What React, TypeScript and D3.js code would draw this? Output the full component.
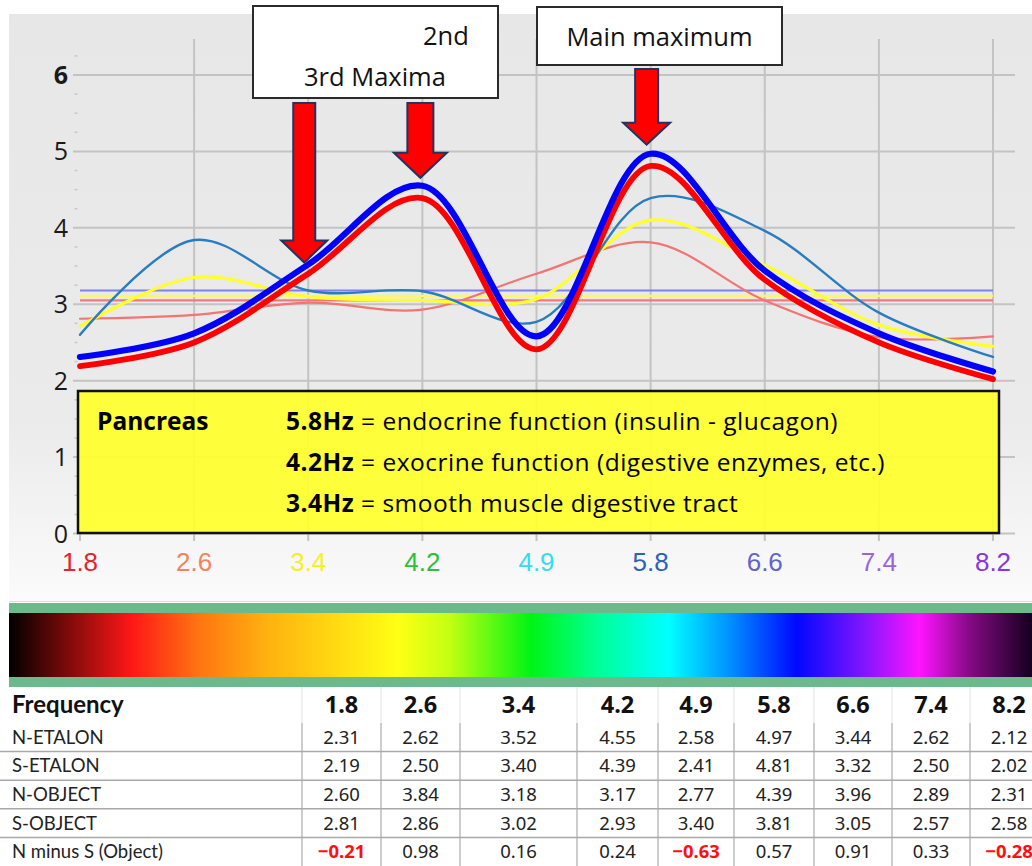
import React from "react";
import * as d3 from "d3";

// frequency categories (Hz) and the measured series
const freqs = ["1.8", "2.6", "3.4", "4.2", "4.9", "5.8", "6.6", "7.4", "8.2"];
const nEtalon = [2.31, 2.62, 3.52, 4.55, 2.58, 4.97, 3.44, 2.62, 2.12];
const sEtalon = [2.19, 2.5, 3.4, 4.39, 2.41, 4.81, 3.32, 2.5, 2.02];
const nObject = [2.6, 3.84, 3.18, 3.17, 2.77, 4.39, 3.96, 2.89, 2.31];
const sObject = [2.81, 2.86, 3.02, 2.93, 3.4, 3.81, 3.05, 2.57, 2.58];
const objectMid = [2.71, 3.35, 3.1, 3.05, 3.07, 4.1, 3.51, 2.73, 2.45];
const nMinusS = [-0.21, 0.98, 0.16, 0.24, -0.63, 0.57, 0.91, 0.33, -0.28];

// flat reference levels drawn across the plot
const levelBlue = 3.18;
const levelYellow = 3.11;
const levelRed = 3.05;

const yTicks = [0, 1, 2, 3, 4, 5, 6];
const tickColors = ["#e8232b", "#f2835f", "#f4f02a", "#2fbf3a", "#35dcef", "#2a62bd", "#6462cf", "#9566df", "#8a35e0"];

const W = 1032;
const H = 866;

const x = d3.scalePoint<string>().domain(freqs).range([80, 993]);
const y = d3.scaleLinear().domain([0, 6]).range([533.5, 75]);

const line = d3
  .line<number>()
  .x((d, i) => x(freqs[i])!)
  .y((d) => y(d))
  .curve(d3.curveCatmullRom.alpha(0.5));

const series = [
  { name: "S-OBJECT", values: sObject, color: "#f27474", width: 2.2 },
  { name: "mid", values: objectMid, color: "#ffff2e", width: 3.2 },
  { name: "N-OBJECT", values: nObject, color: "#2a7cc0", width: 2.4 },
  { name: "S-ETALON", values: sEtalon, color: "#ff0000", width: 5.8 },
  { name: "N-ETALON", values: nEtalon, color: "#0000ff", width: 6.2 },
];

const levels = [
  { v: levelBlue, color: "#7f7ff2" },
  { v: levelYellow, color: "#f8f86a" },
  { v: levelRed, color: "#f07a7a" },
];

// table rows
const tableRows = [
  { label: "N-ETALON", values: nEtalon },
  { label: "S-ETALON", values: sEtalon },
  { label: "N-OBJECT", values: nObject },
  { label: "S-OBJECT", values: sObject },
  { label: "N minus S (Object)", values: nMinusS },
];
const colWidths = [79, 79, 117, 81, 76, 80, 78, 78, 78];
const colStart = 302;
const colEdges = [colStart, ...Array.from(d3.cumsum(colWidths), (c) => colStart + c)];
const headerTop = 687;
const headerH = 36;
const rowH = 28.6;

const fmt = d3.format(".2f");

function Arrow({ tipX, tipY, top, shaftW, headW, headH }: any) {
  const pts = [
    [tipX - shaftW / 2, top],
    [tipX + shaftW / 2, top],
    [tipX + shaftW / 2, tipY - headH],
    [tipX + headW / 2, tipY - headH],
    [tipX, tipY],
    [tipX - headW / 2, tipY - headH],
    [tipX - shaftW / 2, tipY - headH],
  ];
  return <polygon points={pts.map((p) => p.join(",")).join(" ")} fill="#ff0000" stroke="#1f3560" strokeWidth={2} />;
}

export default function App() {
  const minor = d3.range(0, 6.26, 0.25).filter((v) => v % 1 !== 0);
  const stops = [
    [0, "#000000"], [0.056, "#7a0a0a"], [0.12, "#ff1717"], [0.185, "#ff7412"], [0.25, "#ffb010"],
    [0.33, "#ffe012"], [0.38, "#ffff14"], [0.43, "#c4ff12"], [0.51, "#00f514"], [0.575, "#00ff95"],
    [0.645, "#00ffff"], [0.705, "#0090ff"], [0.77, "#0008ff"], [0.835, "#8015ff"], [0.89, "#ff14ff"],
    [0.94, "#820a82"], [1, "#14001e"],
  ];
  return (
    <div style={{ position: "absolute", left: 0, top: 0 }}>
      <svg width={W} height={H} style={{ display: "block", background: "#ffffff" }}>
        <defs>
          <linearGradient id="bg" x1="0" y1="0" x2="0" y2="1">
            <stop offset="0" stopColor="#e7e7e7" />
            <stop offset="0.7" stopColor="#ebebeb" />
            <stop offset="1" stopColor="#fbfbfb" />
          </linearGradient>
          <linearGradient id="spectrum" x1="0" y1="0" x2="1" y2="0">
            {stops.map(([o, c], i) => (
              <stop key={i} offset={o as number} stopColor={c as string} />
            ))}
          </linearGradient>
        </defs>

        {/* plot background */}
        <rect x={9} y={14} width={W - 9} height={588} fill="url(#bg)" />

        {/* grid */}
        <g stroke="#c3c3c3" strokeWidth={2}>
          {yTicks.map((t) => (
            <line key={t} x1={73} x2={1015} y1={y(t)} y2={y(t)} />
          ))}
          {freqs.map((f, i) => (
            <line key={f} x1={x(f)} x2={x(f)} y1={i === 0 ? y(0) : 39} y2={541} />
          ))}
        </g>
        <g stroke="#c8c8c8" strokeWidth={1.5}>
          {minor.map((v) => (
            <line key={v} x1={74.5} x2={77.5} y1={y(v)} y2={y(v)} />
          ))}
        </g>

        {/* y labels */}
        <g fontFamily="'Open Sans', sans-serif" fontSize={25} fill="#1a1a1a" textAnchor="end">
          {yTicks.map((t) => (
            <text key={t} x={68} y={y(t) + 9} fontWeight={t === 6 ? 700 : 400}>
              {t}
            </text>
          ))}
        </g>

        {/* x labels */}
        <g fontFamily="'Liberation Sans', Arial, sans-serif" fontSize={26} textAnchor="middle">
          {freqs.map((f, i) => (
            <text key={f} x={x(f)} y={571} fill={tickColors[i]}>
              {f}
            </text>
          ))}
        </g>

        {/* reference levels */}
        {levels.map((l) => (
          <line key={l.color} x1={x(freqs[0])} x2={x(freqs[freqs.length - 1])} y1={y(l.v)} y2={y(l.v)} stroke={l.color} strokeWidth={2.2} />
        ))}

        {/* curves */}
        {series.map((s) => (
          <path key={s.name} d={line(s.values)!} fill="none" stroke={s.color} strokeWidth={s.width} strokeLinecap="round" />
        ))}

        {/* note box */}
        <rect x={78} y={391} width={921} height={142} fill="#ffff2c" fillOpacity={0.93} stroke="#111" strokeWidth={2.5} />
        <g fontFamily="'Open Sans', sans-serif" fontSize={24.5} fill="#000">
          <text x={97} y={430} fontWeight={700}>Pancreas</text>
          <g letterSpacing={0.5}>
            <text x={286} y={430}>
              <tspan fontWeight={700}>5.8Hz</tspan> = endocrine function (insulin - glucagon)
            </text>
            <text x={286} y={471}>
              <tspan fontWeight={700}>4.2Hz</tspan> = exocrine function (digestive enzymes, etc.)
            </text>
            <text x={286} y={512}>
              <tspan fontWeight={700}>3.4Hz</tspan> = smooth muscle digestive tract
            </text>
          </g>
        </g>

        {/* annotation boxes */}
        <rect x={253} y={6} width={245} height={92} fill="#fff" stroke="#2a2a2a" strokeWidth={2} />
        <rect x={537} y={7} width={245} height={58} fill="#fff" stroke="#2a2a2a" strokeWidth={2} />
        <g fontFamily="'Open Sans', sans-serif" fontSize={25.5} fill="#111">
          <text x={423} y={45}>2nd</text>
          <text x={304} y={86}>3rd Maxima</text>
          <text x={659.5} y={46} textAnchor="middle">Main maximum</text>
        </g>

        {/* arrows pointing at the N-ETALON peaks */}
        <Arrow tipX={x("3.4")! - 4} tipY={y(nEtalon[2]) - 2} top={103} shaftW={22} headW={46} headH={22} />
        <Arrow tipX={x("4.2")! - 2} tipY={y(nEtalon[3]) - 8} top={103} shaftW={26} headW={53} headH={25} />
        <Arrow tipX={x("5.8")! - 4} tipY={y(nEtalon[5]) - 9} top={69} shaftW={23} headW={47} headH={22} />

        {/* spectrum strip */}
        <line x1={9} x2={W} y1={601.5} y2={601.5} stroke="#dcdcdc" strokeWidth={1} />
        <rect x={9} y={603} width={W - 9} height={84} fill="#6cb98b" />
        <rect x={9} y={613} width={W - 9} height={64} fill="url(#spectrum)" />

        {/* table */}
        <g>
          {colEdges.slice(0, -1).map((cx, i) => (
            <line key={"hv" + i} x1={cx} x2={cx} y1={headerTop} y2={headerTop + headerH} stroke="#ececec" strokeWidth={1.5} />
          ))}
          {colEdges.slice(0, -1).map((cx, i) => (
            <line key={"bv" + i} x1={cx} x2={cx} y1={headerTop + headerH} y2={H} stroke="#bdbdbd" strokeWidth={1.5} />
          ))}
          {tableRows.slice(1).map((r, i) => (
            <line key={"h" + i} x1={0} x2={W} y1={headerTop + headerH + rowH * (i + 1)} y2={headerTop + headerH + rowH * (i + 1)} stroke="#a9a9a9" strokeWidth={1.5} />
          ))}
          <text x={12} y={713} fontFamily="Lato, sans-serif" fontWeight={700} fontSize={24} fill="#111">
            Frequency
          </text>
          {freqs.map((f, i) => (
            <text
              key={f}
              x={(colEdges[i] + colEdges[i + 1]) / 2}
              y={713}
              textAnchor="middle"
              fontFamily="'Noto Sans', sans-serif"
              fontWeight={700}
              fontSize={23.5}
              fill="#111"
            >
              {f}
            </text>
          ))}
          {tableRows.map((r, ri) => {
            const cy = headerTop + headerH + rowH * ri + rowH / 2;
            return (
              <g key={r.label}>
                <text x={12} y={cy + 6.5} fontFamily="Lato, sans-serif" fontSize={18.5} fill="#222">
                  {r.label}
                </text>
                {r.values.map((v, i) => (
                  <text
                    key={i}
                    x={(colEdges[i] + colEdges[i + 1]) / 2}
                    y={cy + 6.5}
                    textAnchor="middle"
                    fontFamily="'Noto Sans', sans-serif"
                    fontSize={18.5}
                    fontWeight={v < 0 ? 700 : 400}
                    fill={v < 0 ? "#ff1010" : "#222"}
                  >
                    {fmt(v)}
                  </text>
                ))}
              </g>
            );
          })}
        </g>
      </svg>
    </div>
  );
}
